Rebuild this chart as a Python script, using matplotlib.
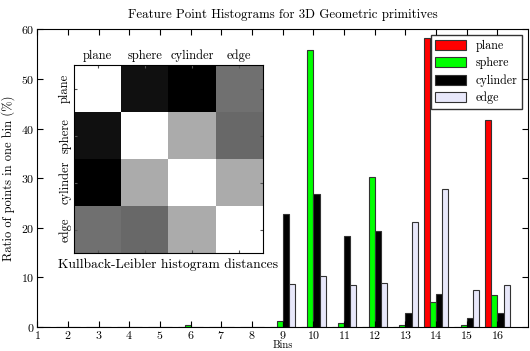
"""
Histogrammes FPFH pour primitives geometriques, avec matrice de distances KL en encart.
"""

import numpy as np
import matplotlib
matplotlib.use('Agg')
import matplotlib.pyplot as plt

# Donnees
bins = np.arange(1, 17)
classes = ['plane', 'sphere', 'cylinder', 'edge']
couleurs = ['#ff0000', '#00ff00', '#000000', '#e8e8fa']

plane = [0, 0, 0, 0, 0, 0, 0, 0, 0, 0, 0, 0, 0, 58.3, 0, 41.8]
sphere = [0, 0, 0, 0, 0, 0.4, 0, 0, 1.2, 55.8, 0.8, 30.3, 0.3, 5.1, 0.4, 6.5]
cylinder = [0, 0, 0, 0, 0, 0, 0, 0, 22.7, 26.8, 18.4, 19.3, 2.9, 6.6, 1.8, 2.8]
edge = [0, 0, 0, 0, 0, 0, 0, 0, 8.6, 10.2, 8.5, 8.8, 21.1, 27.9, 7.4, 8.4]

# Distances de Kullback-Leibler (normalisees)
kl = [[0.00, 0.93, 1.00, 0.56],
      [0.93, 0.00, 0.33, 0.59],
      [1.00, 0.33, 0.00, 0.33],
      [0.56, 0.59, 0.33, 0.00]]

plt.rcParams['font.family'] = 'serif'
plt.rcParams['font.serif'] = ['cmr10']
plt.rcParams['mathtext.fontset'] = 'cm'
plt.rcParams['axes.formatter.use_mathtext'] = True
plt.rcParams['xtick.direction'] = 'in'
plt.rcParams['ytick.direction'] = 'in'
plt.rcParams['xtick.top'] = True
plt.rcParams['ytick.right'] = True

fig = plt.figure(figsize=(5.3, 3.51), dpi=100)
ax = fig.add_axes([0.0704, 0.0685, 0.926, 0.848])

series = [plane, sphere, cylinder, edge]
for k, (valeurs, nom) in enumerate(zip(series, classes)):
    ax.bar(bins - 0.4 + 0.2 * k, valeurs, width=0.2, align='edge',
           color=couleurs[k], edgecolor='#333333', linewidth=0.8, label=nom)

ax.set_xlim(1, 17)
ax.set_ylim(0, 60)
ax.set_xticks(bins)
ax.set_yticks(range(0, 61, 10))
ax.tick_params(labelsize=8.6, length=4, pad=2)
ax.tick_params(axis='x', pad=1.5)
ax.set_title('Feature Point Histograms for 3D Geometric primitives', fontsize=9.3, pad=8)
ax.set_xlabel('Bins', fontsize=7.6, labelpad=-0.6)
ax.set_ylabel('Ratio of points in one bin (%)', fontsize=9, labelpad=4)

ax.legend(loc='upper right', fontsize=8.7, frameon=True, fancybox=False,
          edgecolor='black', borderaxespad=0.5, handlelength=2.5,
          handleheight=0.9, labelspacing=0.4)

# Encart : matrice des distances
axi = fig.add_axes([0.1396, 0.279, 0.3566, 0.5356])
axi.imshow(kl, cmap='gray_r', vmin=0, vmax=1, interpolation='nearest', aspect='auto')
axi.set_xticks(range(4))
axi.set_yticks(range(4))
axi.set_xticklabels(classes)
axi.set_yticklabels(classes, rotation=90, va='center')
axi.xaxis.tick_top()
axi.tick_params(labelsize=9, length=2, pad=2, top=True, bottom=True,
                left=True, right=True, colors='#555555', labelcolor='black')
axi.set_xlabel('Kullback-Leibler histogram distances', fontsize=9.7, labelpad=4)

fig.savefig('out.png', dpi=100, facecolor='white')
